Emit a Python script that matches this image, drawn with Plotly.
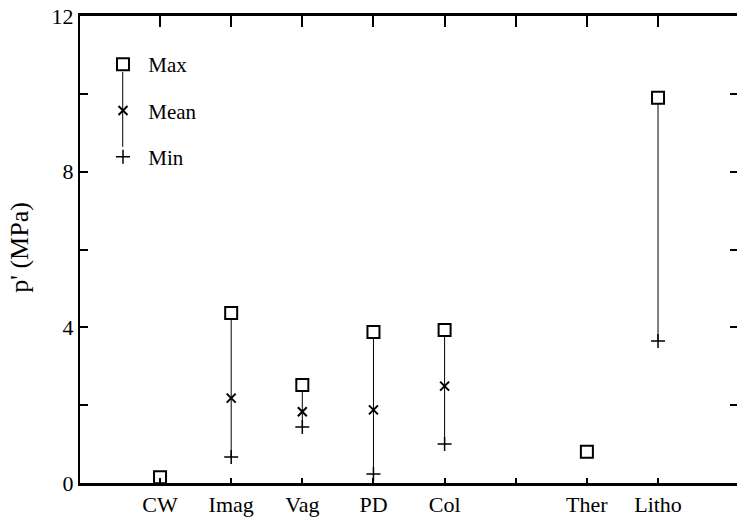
import plotly.graph_objects as go

categories = ["CW", "Imag", "Vag", "PD", "Col", "", "Ther", "Litho"]
max_vals = [0.15, 4.37, 2.52, 3.88, 3.93, None, 0.80, 9.90]
mean_vals = [None, 2.18, 1.83, 1.88, 2.49, None, None, None]
min_vals = [None, 0.67, 1.44, 0.23, 1.00, None, None, 3.65]
y_ticks = [0, 2, 4, 6, 8, 10, 12]
y_ticklabels = ["0", "", "4", "", "8", "", "12"]

xpos = list(range(1, len(categories) + 1))
FONT = "Liberation Serif, Times New Roman, serif"
XR = [-0.125, 9.11]
YR = [0, 12]

# connecting vertical lines
lx, ly = [], []
for x, hi, me, lo in zip(xpos, max_vals, mean_vals, min_vals):
    vals = [v for v in (hi, me, lo) if v is not None]
    if len(vals) >= 2:
        lx += [x, x, None]
        ly += [min(vals), max(vals), None]

fig = go.Figure()
fig.add_trace(go.Scatter(x=lx, y=ly, mode="lines", line=dict(color="black", width=1),
                         showlegend=False, hoverinfo="skip"))
fig.add_trace(go.Scatter(x=xpos, y=max_vals, mode="markers", name="\u00a0Max",
                         marker=dict(symbol="square", size=12, color="white",
                                     line=dict(color="black", width=2)),
                         legendgroup="a"))
fig.add_trace(go.Scatter(x=xpos, y=mean_vals, mode="markers", name="\u00a0Mean",
                         marker=dict(symbol="x-thin", size=9,
                                     line=dict(color="black", width=2)),
                         legendgroup="b"))
fig.add_trace(go.Scatter(x=xpos, y=min_vals, mode="markers", name="\u00a0Min",
                         marker=dict(symbol="cross-thin", size=10,
                                     line=dict(color="black", width=1.5)),
                         legendgroup="c"))
# invisible trace to activate top/right axes
fig.add_trace(go.Scatter(x=[XR[0]], y=[YR[0]], xaxis="x2", yaxis="y2", mode="markers",
                         marker=dict(opacity=0), showlegend=False, hoverinfo="skip"))

fig.update_layout(
    width=737, height=521,
    margin=dict(l=80, r=0, t=16, b=38),
    paper_bgcolor="white", plot_bgcolor="white",
    font=dict(family=FONT, color="black", size=20),
    xaxis=dict(range=XR, tickmode="array", tickvals=xpos, ticktext=categories,
               ticks="inside", ticklen=5, tickwidth=1.5, tickcolor="black",
               showline=True, linecolor="black", linewidth=3, showgrid=False,
               zeroline=False, tickfont=dict(size=22, family=FONT)),
    xaxis2=dict(range=XR, overlaying="x", side="top", tickmode="array", tickvals=xpos,
                ticks="inside", ticklen=11, tickwidth=1.5, tickcolor="black",
                showline=True, linecolor="black", linewidth=3, showgrid=False,
                zeroline=False, showticklabels=False),
    yaxis=dict(range=YR, tickmode="array", tickvals=y_ticks, ticktext=y_ticklabels,
               ticks="inside", ticklen=8, tickwidth=2, tickcolor="black",
               showline=True, linecolor="black", linewidth=2, showgrid=False,
               zeroline=False, tickfont=dict(size=22, family=FONT)),
    yaxis2=dict(range=YR, overlaying="y", side="right", tickmode="array",
                tickvals=[2, 4, 6, 8, 10], ticks="inside", ticklen=7, tickwidth=2,
                tickcolor="black", showline=False, showgrid=False, zeroline=False,
                showticklabels=False),
    legend=dict(x=0.035, y=0.94, xanchor="left", yanchor="top",
                font=dict(size=21, family=FONT), tracegroupgap=16,
                bgcolor="rgba(0,0,0,0)", itemwidth=30),
    showlegend=True,
)

fig.add_annotation(text="p' (MPa)", xref="paper", yref="paper", x=-0.092, y=0.505,
                   xanchor="center", yanchor="middle", textangle=-90, showarrow=False,
                   font=dict(size=26, family=FONT))
# connecting line of legend glyphs
fig.add_shape(type="line", xref="paper", yref="paper", x0=0.065, x1=0.065,
              y0=0.72, y1=0.88, line=dict(color="black", width=1), layer="below")

fig.write_html("out.html")
